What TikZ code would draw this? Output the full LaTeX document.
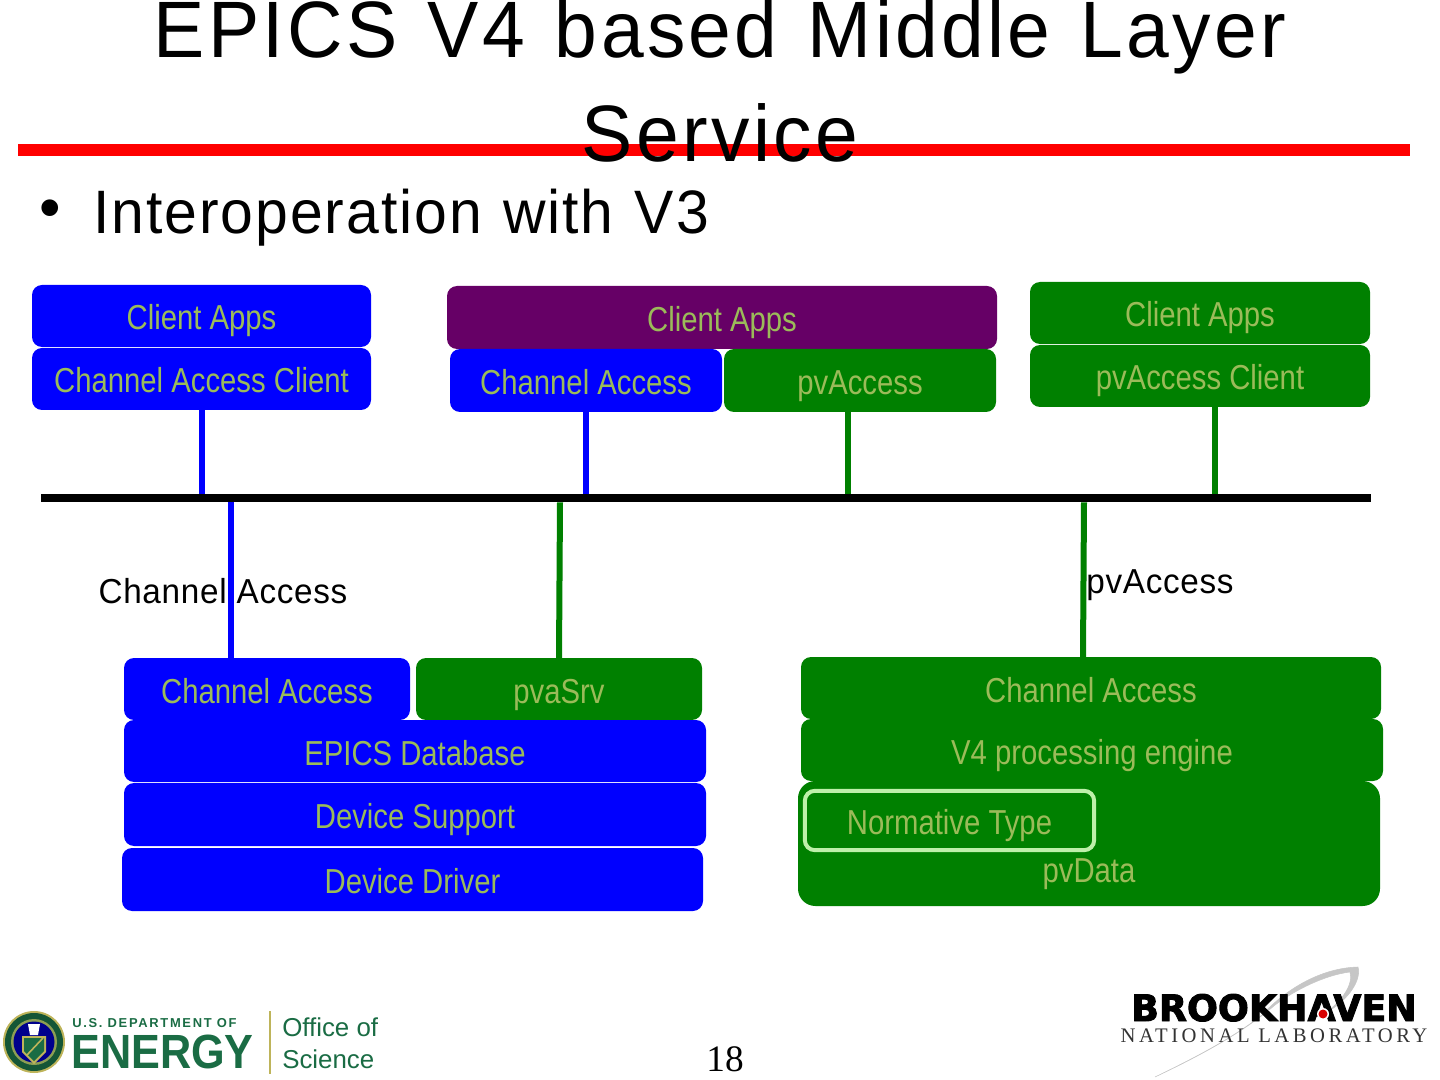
\documentclass[tikz,border=0pt]{standalone}
\usepackage{fontspec}
\setmainfont{Liberation Sans}
\newfontfamily\narrowfont[FakeStretch=0.845]{Liberation Sans}
\newfontfamily\titlefont[FakeStretch=0.96,LetterSpace=4.2,WordSpace=1.22]{Liberation Sans}
\newfontfamily\subfont[FakeStretch=0.96,LetterSpace=3.2,WordSpace=1.15]{Liberation Sans}
\newfontfamily\labelfont[FakeStretch=0.96,LetterSpace=2]{Liberation Sans}
\newfontfamily\seriffont{Liberation Serif}
\newfontfamily\bnlfont[LetterSpace=17]{Liberation Serif}
\newfontfamily\bnlheavy[FakeBold=2.5]{DejaVu Sans Bold}
\newfontfamily\doewide[LetterSpace=13]{Liberation Sans}
\newfontfamily\doeheavy[FakeStretch=0.9]{Liberation Sans}
\definecolor{boxblue}{RGB}{0,0,255}
\definecolor{boxgreen}{RGB}{0,128,0}
\definecolor{boxpurple}{RGB}{102,0,102}
\definecolor{boxtext}{RGB}{155,187,89}
\definecolor{boxedge}{RGB}{190,240,170}
\definecolor{doegreen}{RGB}{26,108,68}
\definecolor{doegold}{RGB}{190,180,90}
\tikzset{
  stackbox/.style={rectangle, rounded corners=7.5pt, inner sep=0pt, outer sep=0pt, text=boxtext,
    text height=21pt, text depth=0pt, font=\narrowfont\fontsize{26}{26}\selectfont},
  drop/.style={line width=4.5pt},
  caption/.style={inner sep=0pt, font=\fontsize{25}{25}\selectfont, anchor=base},
}
\begin{document}
\begin{tikzpicture}[x=0.75pt, y=-0.75pt]
  \path[use as bounding box] (0,0) rectangle (1440,1080);
  \clip (0,0) rectangle (1440,1080);

  % heading
  \node[inner sep=0pt, minimum width=1044pt, minimum height=9pt, fill=red] (rule) at (714,150) {};
  \node[caption, font=\titlefont\fontsize{60}{60}\selectfont] (title1) at (720,58) {EPICS V4 based Middle Layer};
  \node[caption, font=\titlefont\fontsize{60}{60}\selectfont] (title2) at (720,162) {Service};
  \node[caption, anchor=base west, font=\fontsize{46}{46}\selectfont] (bullet) at (39,229) {•};
  \node[caption, anchor=base west, font=\subfont\fontsize{46}{46}\selectfont] (sub) at (93,234) {Interoperation with V3};

  % bus
  \node[inner sep=0pt, outer sep=0pt, minimum width=997.5pt, minimum height=6.5pt, fill=black] (bus) at (705.5,498) {};

  % boxes: name/left/top/right/bottom/colour/text
  \foreach \n/\bl/\bt/\br/\bb/\col/\txt in {
      capps/32/285/371/347/boxblue/Client Apps,
      cacl/32/348/371/410/boxblue/Channel Access Client,
      mapps/447/286/997/349/boxpurple/Client Apps,
      mca/450/349/722/412/boxblue/Channel Access,
      mpva/724/349/996/412/boxgreen/pvAccess,
      gapps/1030/282/1370/344/boxgreen/Client Apps,
      gcl/1030/345/1370/407/boxgreen/pvAccess Client,
      ioca/124/658/410/720/boxblue/Channel Access,
      iopva/416/658/702/720/boxgreen/pvaSrv,
      iodb/124/720/706/782/boxblue/EPICS Database,
      iosup/124/783/706/846/boxblue/Device Support,
      iodrv/122/848/703/911/boxblue/Device Driver,
      srvca/801/657/1381/719/boxgreen/Channel Access,
      srvv4/801/719/1383/781/boxgreen/V4 processing engine} {
    \pgfmathsetmacro{\cx}{(\bl+\br)/2}
    \pgfmathsetmacro{\cy}{(\bt+\bb)/2}
    \pgfmathsetmacro{\boxw}{(\br-\bl)*0.75}
    \pgfmathsetmacro{\boxh}{(\bb-\bt)*0.75}
    \node[stackbox, fill=\col, minimum width=\boxw pt, minimum height=\boxh pt] (\n) at (\cx,\cy) {\txt};
  }

  \node[stackbox, fill=boxgreen, minimum width=436.5pt, minimum height=93.75pt, rounded corners=13pt] (srvdata) at (1089,843.5) {};
  \node[stackbox, anchor=base] (srvdatatxt) at (1089,882) {pvData};
  \node[stackbox, draw=boxedge, line width=3pt, minimum width=217pt, minimum height=44.5pt] (srvnorm) at (949.5,820.5) {Normative Type};

  % drops to the bus
  \coordinate (a1) at (202,410);
  \coordinate (a2) at (848,412);
  \coordinate (a3) at (1215,407);
  \coordinate (b1) at (231,498);
  \coordinate (b2) at (560,498);
  \coordinate (b3) at (1084,498);
  \draw[drop, boxblue] (a1) -- (a1 |- bus.north);
  \draw[drop, boxblue] (mca.south) -- (mca.south |- bus.north);
  \draw[drop, boxgreen] (a2) -- (a2 |- bus.north);
  \draw[drop, boxgreen] (a3) -- (a3 |- bus.north);
  \draw[drop, boxblue] (b1 |- bus.south) -- (b1 |- ioca.north);
  \draw[drop, boxgreen] (b2 |- bus.south) -- (iopva.north);
  \draw[drop, boxgreen] (b3 |- bus.south) -- (1083,657);

  \node[caption, font=\labelfont\fontsize{26}{26}\selectfont] (lblca) at (223,603.5) {Channel Access};
  \node[caption, font=\labelfont\fontsize{26}{26}\selectfont] (lblpva) at (1160,593.5) {pvAccess};
  \node[caption, font=\seriffont\fontsize{28}{28}\selectfont] (pageno) at (725,1071) {18};

  % DOE logo
  \fill[doegold] (34,1042) circle (31);
  \fill[doegreen!80!black] (34,1042) circle (29);
  \fill[doegold!70!doegreen] (34,1042) circle (23);
  \fill[blue!55!black] (34,1042) circle (20.5);
  \fill[white] (28,1024) -- (40,1024) -- (38,1035) -- (30,1035) -- cycle;
  \fill[doegold] (22,1036) -- (46,1036) -- (46,1052) -- (34,1064) -- (22,1052) -- cycle;
  \fill[doegreen] (24,1038) -- (44,1038) -- (44,1051) -- (34,1061) -- (24,1051) -- cycle;
  \draw[doegold, line width=1.2pt] (27,1055) -- (43,1038);
  \node[caption, anchor=base west, text=doegreen, font=\doewide\bfseries\fontsize{9.7}{10}\selectfont] (doe1) at (72,1027) {U.S. DEPARTMENT OF};
  \node[caption, anchor=base west, text=doegreen, font=\doeheavy\bfseries\fontsize{36}{36}\selectfont] (doe2) at (71,1068) {ENERGY};
  \fill[doegold] (268.5,1011) rectangle (270.5,1074);
  \node[caption, anchor=base west, text=doegreen, font=\fontsize{19.4}{19.4}\selectfont] (doe3) at (282,1036) {Office of};
  \node[caption, anchor=base west, text=doegreen, font=\fontsize{19.4}{19.4}\selectfont] (doe4) at (282,1068) {Science};

  % BNL logo
  \filldraw[gray!45, line width=0.4pt] (1358,967) .. controls (1320,968) and (1285,990) .. (1262,1015) .. controls (1230,1040) and (1190,1060) .. (1155,1077)
    .. controls (1195,1058) and (1240,1035) .. (1275,1005) .. controls (1295,990) and (1325,975) .. (1350,972)
    .. controls (1354,985) and (1340,1003) .. (1325,1013) .. controls (1345,1003) and (1362,982) .. (1358,967) -- cycle;
  \node[caption, text=black, font=\bnlheavy\fontsize{27.3}{27.3}\selectfont] (bnl1) at (1274,1021) {BROOKHAVEN};
  \fill[white] (1323,1014) circle (6);
  \fill[red!85!black] (1323,1014) circle (4.5);
  \node[caption, font=\bnlfont\fontsize{15.5}{16}\selectfont, text=black!80] (bnl2) at (1274,1042) {NATIONAL  LABORATORY};
\end{tikzpicture}
\end{document}
